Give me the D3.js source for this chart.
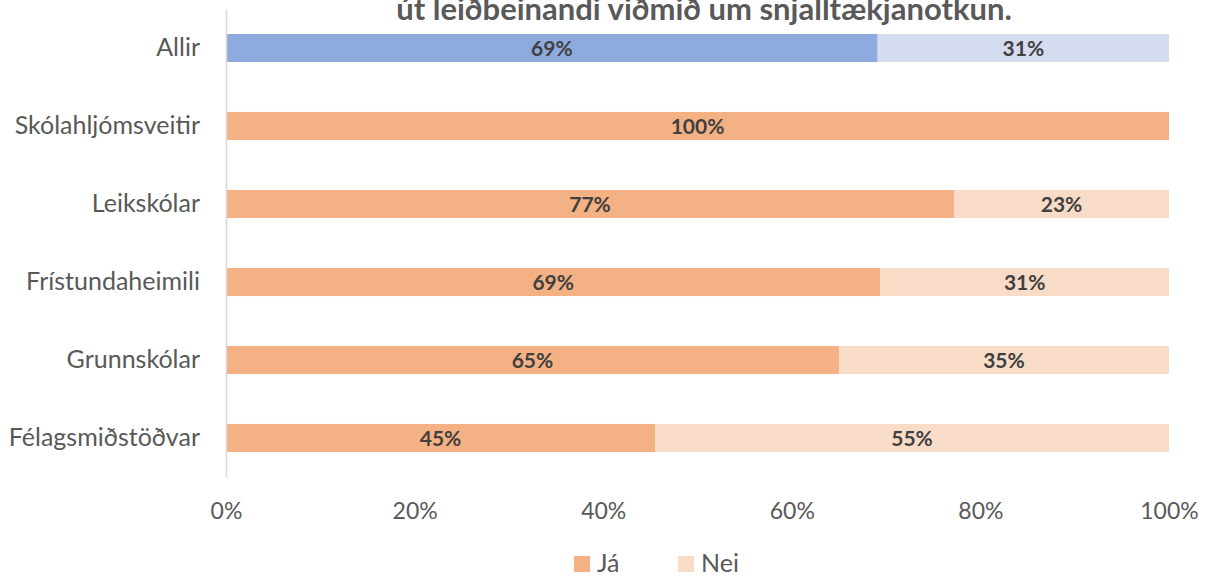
<!DOCTYPE html>
<html><head><meta charset="utf-8">
<script src="https://cdn.jsdelivr.net/npm/d3@7"></script>
<style>body{margin:0;background:#fff;} text{font-family:Lato,"Open Sans",sans-serif;}</style>
</head><body>
<svg id="c" width="1219" height="577"></svg>
<script>
const categories = ["Allir","Skólahljómsveitir","Leikskólar","Frístundaheimili","Grunnskólar","Félagsmiðstöðvar"];
const jaValues  = [69.1, 100, 77.2, 69.4, 65.0, 45.5];
const neiValues = [30.9, 0, 22.8, 30.6, 35.0, 54.5];
const jaLabels  = ["69%","100%","77%","69%","65%","45%"];
const neiLabels = ["31%","","23%","31%","35%","55%"];
const tickValues = [0,20,40,60,80,100];
const seriesNames = ["Já","Nei"];
const titleText = "út leiðbeinandi viðmið um snjalltækjanotkun.";

const svg = d3.select("#c");
const x = d3.scaleLinear().domain([0,100]).range([226,1169]);
const y = d3.scaleBand().domain(categories).range([9,477]).paddingInner(0.64).paddingOuter(0.32);

const colors = {
  ja: d => d === "Allir" ? "#8FAADC" : "#F4B183",
  nei: d => d === "Allir" ? "#D5DCF0" : "#F9DCC8"
};

svg.append("text").attr("x",704).attr("y",20).attr("text-anchor","middle")
  .attr("font-size",31).attr("font-weight","bold").attr("fill","#595959").text(titleText);

const rows = categories.map((c,i)=>({c,i,ja:jaValues[i],nei:neiValues[i]}));

svg.selectAll("rect.ja").data(rows).join("rect").attr("class","ja")
  .attr("x",x(0)).attr("y",d=>y(d.c)).attr("height",y.bandwidth())
  .attr("width",d=>x(d.ja)-x(0)).attr("fill",d=>colors.ja(d.c));
svg.selectAll("rect.nei").data(rows.filter(d=>d.nei>0)).join("rect").attr("class","nei")
  .attr("x",d=>x(d.ja)).attr("y",d=>y(d.c)).attr("height",y.bandwidth())
  .attr("width",d=>x(d.ja+d.nei)-x(d.ja)).attr("fill",d=>colors.nei(d.c));

svg.selectAll("text.jl").data(rows).join("text").attr("class","jl")
  .attr("x",d=>x(d.ja/2)).attr("y",d=>y(d.c)+y.bandwidth()/2).attr("dy","0.36em")
  .attr("text-anchor","middle").attr("font-size",21).attr("font-weight","bold").attr("fill","#404040")
  .text(d=>jaLabels[d.i]);
svg.selectAll("text.nl").data(rows.filter(d=>d.nei>0)).join("text").attr("class","nl")
  .attr("x",d=>x(d.ja+d.nei/2)).attr("y",d=>y(d.c)+y.bandwidth()/2).attr("dy","0.36em")
  .attr("text-anchor","middle").attr("font-size",21).attr("font-weight","bold").attr("fill","#404040")
  .text(d=>neiLabels[d.i]);

// y axis
const ya = svg.append("g").attr("transform",`translate(${x(0)},0)`).call(d3.axisLeft(y).tickSize(0).tickPadding(26));
ya.select(".domain").attr("stroke","#D9D9D9").attr("stroke-width",1.5);
ya.selectAll("text").attr("font-size",25).attr("fill","#595959").style("font-family","Lato,sans-serif");

// x axis
const xa = svg.append("g").attr("transform","translate(0,477)")
  .call(d3.axisBottom(x).tickValues(tickValues).tickFormat(d=>d+"%").tickSize(0).tickPadding(26));
xa.select(".domain").remove();
xa.selectAll("text").attr("font-size",23).attr("fill","#595959").style("font-family","Lato,sans-serif");

// legend
const lg = svg.append("g");
const legendX = [574, 678];
const legendCol = ["#F4B183","#F9DCC8"];
seriesNames.forEach((n,i)=>{
  lg.append("rect").attr("x",legendX[i]).attr("y",556).attr("width",16).attr("height",16).attr("fill",legendCol[i]);
  lg.append("text").attr("x",legendX[i]+23).attr("y",572).attr("font-size",25).attr("fill","#595959").text(n);
});
</script>
</body></html>
